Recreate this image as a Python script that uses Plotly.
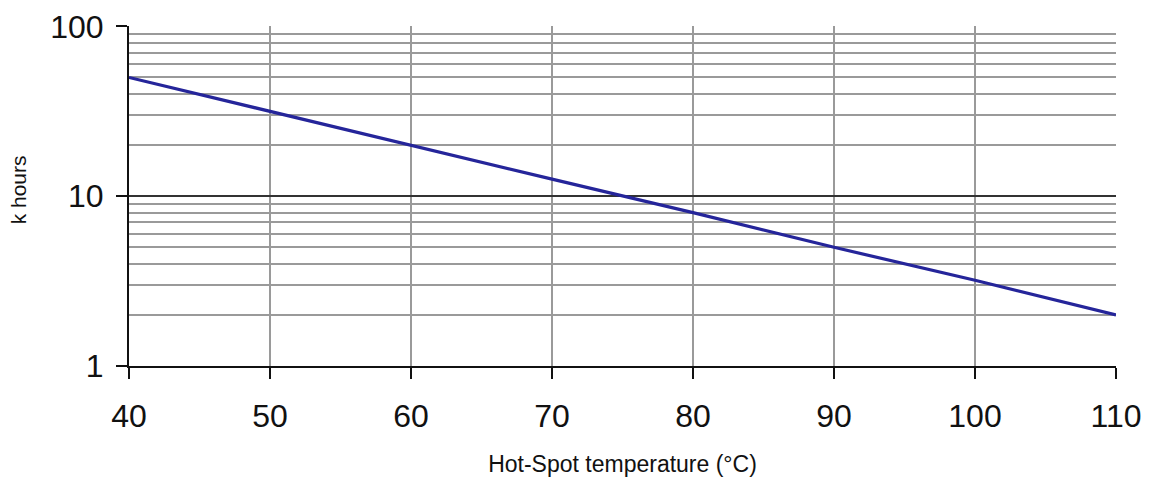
import plotly.graph_objects as go

temperature_c = [40, 50, 60, 70, 80, 90, 100, 110]
k_hours = [50, 31.5, 20, 12.6, 8, 5, 3.2, 2]
x_ticks = [40, 50, 60, 70, 80, 90, 100, 110]
y_ticks = [1, 10, 100]
y_tick_labels = ["1", "10", "100"]

fig = go.Figure()
fig.add_trace(go.Scatter(
    x=temperature_c, y=k_hours, mode="lines",
    line=dict(color="#25259A", width=3.2),
    showlegend=False, hoverinfo="skip",
))

font_family = "Liberation Sans, Arial, Helvetica, sans-serif"

fig.update_layout(
    width=1146, height=471,
    margin=dict(l=121, r=38, t=18, b=113, autoexpand=False),
    paper_bgcolor="white", plot_bgcolor="white",
    font=dict(family=font_family, color="#111111"),
    xaxis=dict(
        range=[40, 110], tickvals=x_ticks, ticktext=[str(v) for v in x_ticks],
        showgrid=True, gridcolor="#9a9a9a", gridwidth=1.6,
        showline=True, linecolor="#111111", linewidth=2,
        ticks="outside", ticklen=11, tickwidth=2, tickcolor="#111111",
        tickfont=dict(size=32, family=font_family, color="#111111"),
        ticklabelstandoff=10, ticklabeloverflow="allow", automargin=False,
        title=dict(text="Hot-Spot temperature (°C)", font=dict(size=23, family=font_family, color="#111111"), standoff=22),
        zeroline=False,
    ),
    yaxis=dict(
        type="log", range=[0, 2.002], tickvals=y_ticks, ticktext=y_tick_labels,
        showgrid=True, gridcolor="#333333", gridwidth=1.6,
        showline=True, linecolor="#111111", linewidth=2,
        ticks="outside", ticklen=11, tickwidth=2, tickcolor="#111111",
        tickfont=dict(size=32, family=font_family, color="#111111"),
        ticklabelstandoff=6, ticklabeloverflow="allow", automargin=False,
        minor=dict(tickvals=[2, 3, 4, 5, 6, 7, 8, 9, 20, 30, 40, 50, 60, 70, 80, 90],
                   showgrid=True, gridcolor="#9a9a9a", gridwidth=1.6, ticks=""),
        zeroline=False,
    ),
    annotations=[dict(
        text="k hours", xref="paper", yref="paper", x=-0.112, y=0.518,
        xanchor="center", yanchor="middle", textangle=-90, showarrow=False,
        font=dict(size=21, family=font_family, color="#111111"),
    )],
)

fig.write_html("out.html")
